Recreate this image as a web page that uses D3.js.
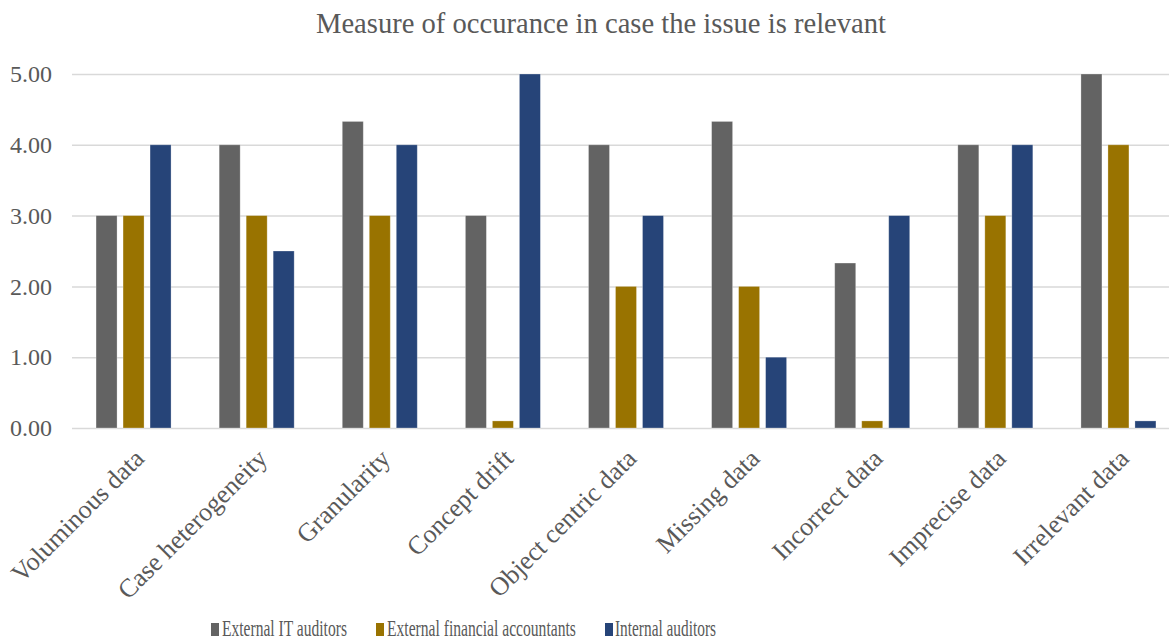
<!DOCTYPE html>
<html><head><meta charset="utf-8">
<script src="https://cdn.jsdelivr.net/npm/d3@7"></script>
<style>body{margin:0;background:#fff}svg{display:block}text{font-family:"Liberation Serif","Times New Roman",serif;fill:#595959}</style>
</head><body><svg id="c" width="1169" height="639"></svg>
<script>
const title = "Measure of occurance in case the issue is relevant";
const categories = ["Voluminous data","Case heterogeneity","Granularity","Concept drift","Object centric data","Missing data","Incorrect data","Imprecise data","Irrelevant data"];
const seriesNames = ["External IT auditors","External financial accountants","Internal auditors"];
const externalIT = [3,4,4.33,3,4,4.33,2.33,4,5];
const externalFin = [3,3,3,0.1,2,2,0.1,3,4];
const internalAud = [4,2.5,4,5,3,1,3,4,0.1];
const yTicks = [0,1,2,3,4,5];
const colors = ["#636363","#997300","#264478"];

(function(){
const series = [externalIT, externalFin, internalAud];
const svg = d3.select("#c");
const mL = 72, mR = 1180, mT = 74, mB = 428;
const x = d3.scaleBand().domain(categories).range([mL, mR]).paddingInner(0).paddingOuter(0);
const y = d3.scaleLinear().domain([0,5]).range([mB, mT]);
const barW = 21, pitch = 27;

svg.append("text").attr("x", 601).attr("y", 33).attr("text-anchor","middle")
  .style("font-size","28.6px").text(title);

const yAxis = d3.axisLeft(y).tickValues(yTicks).tickFormat(d3.format(".2f")).tickSize(-(mR-mL)).tickPadding(20);
const gy = svg.append("g").attr("transform",`translate(${mL},0)`).call(yAxis);
gy.select(".domain").remove();
gy.selectAll(".tick line").attr("stroke","#d9d9d9").attr("stroke-width",1.5);
gy.selectAll(".tick text").style("font-size","24px").attr("fill","#595959").attr("x",-20);

series.forEach((vals, si) => {
  svg.append("g").selectAll("rect").data(vals).join("rect")
    .attr("x", (d,i) => x(categories[i]) + x.bandwidth()/2 - pitch + si*pitch - barW/2)
    .attr("y", d => y(d))
    .attr("width", barW)
    .attr("height", d => y(0) - y(d))
    .attr("fill", colors[si])
    .attr("stroke","#ffffff").attr("stroke-opacity",0.35).attr("stroke-width",0.8);
});

const xAxis = d3.axisBottom(x).tickSize(0).tickPadding(0);
const gx = svg.append("g").attr("transform",`translate(0,${mB})`).call(xAxis);
gx.select(".domain").remove();
gx.selectAll(".tick text").attr("fill","#595959").style("font-size","26px")
  .attr("text-anchor","end").attr("dy",null).attr("y",0)
  .attr("transform","translate(12,32) rotate(-45)");

const legX = [211, 376, 605];
const legTX = [222, 387, 615];
const legW = [125, 189, 101];
const lg = svg.append("g");
seriesNames.forEach((n, i) => {
  lg.append("rect").attr("x", legX[i]).attr("y", 623).attr("width", 8).attr("height", 13).attr("fill", colors[i]);
  const t = lg.append("text").attr("x", 0).attr("y", 0).style("font-size","23px").text(n);
  const w = t.node().getComputedTextLength();
  t.attr("transform", `translate(${legTX[i]},636) scale(${legW[i]/w},1)`);
});
})();
</script></body></html>
